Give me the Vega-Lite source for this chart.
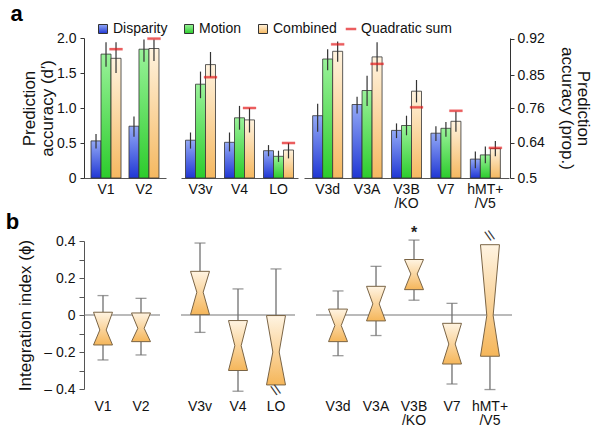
{
"$schema":"https://vega.github.io/schema/vega-lite/v6.json",
"padding":{"left":5,"top":3,"right":4,"bottom":4},
"spacing":0,
"config":{"font":"Liberation Sans","view":{"stroke":null},"axis":{"labelColor":"#111","titleColor":"#111","titleFontWeight":"normal","domainColor":"#333","tickColor":"#333","grid":false},"legend":{"labelFontSize":14,"labelColor":"#111","labelOffset":3,"columnPadding":14,"title":null}},
"datasets":{
"bars":[
{"area":"V1","series":"Disparity","v":0.53,"lo":0.42,"hi":0.63},
{"area":"V1","series":"Motion","v":1.77,"lo":1.59,"hi":1.94},
{"area":"V1","series":"Combined","v":1.71,"lo":1.50,"hi":1.94,"q":1.84},
{"area":"V2","series":"Disparity","v":0.74,"lo":0.59,"hi":0.88},
{"area":"V2","series":"Motion","v":1.84,"lo":1.66,"hi":1.98},
{"area":"V2","series":"Combined","v":1.85,"lo":1.67,"hi":1.98,"q":1.99},
{"area":"V3v","series":"Disparity","v":0.54,"lo":0.42,"hi":0.65},
{"area":"V3v","series":"Motion","v":1.34,"lo":1.14,"hi":1.52},
{"area":"V3v","series":"Combined","v":1.62,"lo":1.44,"hi":1.80,"q":1.44},
{"area":"V4","series":"Disparity","v":0.51,"lo":0.38,"hi":0.65},
{"area":"V4","series":"Motion","v":0.86,"lo":0.69,"hi":1.03},
{"area":"V4","series":"Combined","v":0.83,"lo":0.65,"hi":1.00,"q":1.00},
{"area":"LO","series":"Disparity","v":0.39,"lo":0.31,"hi":0.47},
{"area":"LO","series":"Motion","v":0.31,"lo":0.23,"hi":0.39},
{"area":"LO","series":"Combined","v":0.40,"lo":0.28,"hi":0.50,"q":0.50},
{"area":"V3d","series":"Disparity","v":0.89,"lo":0.66,"hi":1.06},
{"area":"V3d","series":"Motion","v":1.70,"lo":1.54,"hi":1.84},
{"area":"V3d","series":"Combined","v":1.81,"lo":1.66,"hi":1.95,"q":1.91},
{"area":"V3A","series":"Disparity","v":1.05,"lo":0.92,"hi":1.16},
{"area":"V3A","series":"Motion","v":1.25,"lo":1.03,"hi":1.46},
{"area":"V3A","series":"Combined","v":1.73,"lo":1.52,"hi":1.94,"q":1.63},
{"area":"V3B/KO","series":"Disparity","v":0.68,"lo":0.57,"hi":0.78},
{"area":"V3B/KO","series":"Motion","v":0.75,"lo":0.61,"hi":0.89},
{"area":"V3B/KO","series":"Combined","v":1.24,"lo":1.08,"hi":1.40,"q":1.01},
{"area":"V7","series":"Disparity","v":0.64,"lo":0.53,"hi":0.74},
{"area":"V7","series":"Motion","v":0.71,"lo":0.59,"hi":0.80},
{"area":"V7","series":"Combined","v":0.81,"lo":0.66,"hi":0.95,"q":0.96},
{"area":"hMT+/V5","series":"Disparity","v":0.27,"lo":0.14,"hi":0.38},
{"area":"hMT+/V5","series":"Motion","v":0.33,"lo":0.21,"hi":0.45},
{"area":"hMT+/V5","series":"Combined","v":0.42,"lo":0.31,"hi":0.53,"q":0.43}
],
"verts":[
{"area":"V1","k":1,"p":"L","v":0.015},{"area":"V1","k":2,"p":"R","v":0.015},{"area":"V1","k":3,"p":"r","v":-0.081},{"area":"V1","k":4,"p":"R","v":-0.162},{"area":"V1","k":5,"p":"L","v":-0.162},{"area":"V1","k":6,"p":"l","v":-0.081},
{"area":"V2","k":1,"p":"L","v":0.011},{"area":"V2","k":2,"p":"R","v":0.011},{"area":"V2","k":3,"p":"r","v":-0.072},{"area":"V2","k":4,"p":"R","v":-0.144},{"area":"V2","k":5,"p":"L","v":-0.144},{"area":"V2","k":6,"p":"l","v":-0.072},
{"area":"V3v","k":1,"p":"L","v":0.236},{"area":"V3v","k":2,"p":"R","v":0.236},{"area":"V3v","k":3,"p":"r","v":0.123},{"area":"V3v","k":4,"p":"R","v":0.002},{"area":"V3v","k":5,"p":"L","v":0.002},{"area":"V3v","k":6,"p":"l","v":0.123},
{"area":"V4","k":1,"p":"L","v":-0.03},{"area":"V4","k":2,"p":"R","v":-0.03},{"area":"V4","k":3,"p":"r","v":-0.166},{"area":"V4","k":4,"p":"R","v":-0.30},{"area":"V4","k":5,"p":"L","v":-0.30},{"area":"V4","k":6,"p":"l","v":-0.166},
{"area":"LO","k":1,"p":"L","v":-0.003},{"area":"LO","k":2,"p":"R","v":-0.003},{"area":"LO","k":3,"p":"r","v":-0.20},{"area":"LO","k":4,"p":"R","v":-0.378},{"area":"LO","k":5,"p":"L","v":-0.378},{"area":"LO","k":6,"p":"l","v":-0.20},
{"area":"V3d","k":1,"p":"L","v":0.032},{"area":"V3d","k":2,"p":"R","v":0.032},{"area":"V3d","k":3,"p":"r","v":-0.057},{"area":"V3d","k":4,"p":"R","v":-0.144},{"area":"V3d","k":5,"p":"L","v":-0.144},{"area":"V3d","k":6,"p":"l","v":-0.057},
{"area":"V3A","k":1,"p":"L","v":0.155},{"area":"V3A","k":2,"p":"R","v":0.155},{"area":"V3A","k":3,"p":"r","v":0.06},{"area":"V3A","k":4,"p":"R","v":-0.032},{"area":"V3A","k":5,"p":"L","v":-0.032},{"area":"V3A","k":6,"p":"l","v":0.06},
{"area":"V3B/KO","k":1,"p":"L","v":0.30},{"area":"V3B/KO","k":2,"p":"R","v":0.30},{"area":"V3B/KO","k":3,"p":"r","v":0.222},{"area":"V3B/KO","k":4,"p":"R","v":0.137},{"area":"V3B/KO","k":5,"p":"L","v":0.137},{"area":"V3B/KO","k":6,"p":"l","v":0.222},
{"area":"V7","k":1,"p":"L","v":-0.045},{"area":"V7","k":2,"p":"R","v":-0.045},{"area":"V7","k":3,"p":"r","v":-0.157},{"area":"V7","k":4,"p":"R","v":-0.265},{"area":"V7","k":5,"p":"L","v":-0.265},{"area":"V7","k":6,"p":"l","v":-0.157},
{"area":"hMT+/V5","k":1,"p":"L","v":0.38},{"area":"hMT+/V5","k":2,"p":"R","v":0.38},{"area":"hMT+/V5","k":3,"p":"r","v":-0.003},{"area":"hMT+/V5","k":4,"p":"R","v":-0.223},{"area":"hMT+/V5","k":5,"p":"L","v":-0.223},{"area":"hMT+/V5","k":6,"p":"l","v":-0.003}
],
"whisk":[
{"area":"V1","q3":0.015,"q1":-0.162,"lo":-0.243,"hi":0.105},
{"area":"V2","q3":0.011,"q1":-0.144,"lo":-0.216,"hi":0.09},
{"area":"V3v","q3":0.236,"q1":0.002,"lo":-0.094,"hi":0.389},
{"area":"V4","q3":-0.03,"q1":-0.30,"lo":-0.412,"hi":0.141},
{"area":"LO","q3":-0.003,"q1":-0.378,"lo":null,"hi":0.249},
{"area":"V3d","q3":0.032,"q1":-0.144,"lo":-0.22,"hi":0.13},
{"area":"V3A","q3":0.155,"q1":-0.032,"lo":-0.111,"hi":0.263},
{"area":"V3B/KO","q3":0.30,"q1":0.137,"lo":0.08,"hi":0.405},
{"area":"V7","q3":-0.045,"q1":-0.265,"lo":-0.373,"hi":0.063},
{"area":"hMT+/V5","q3":0.38,"q1":-0.223,"lo":-0.403,"hi":null}
],
"notes":[
{"area":"V3B/KO","v":0.445,"t":"*"},
{"area":"LO","v":-0.41,"t":"\\\\"},
{"area":"hMT+/V5","v":0.425,"t":"\\\\"}
]
},
"vconcat":[
{
"title":{"text":"a","anchor":"start","fontSize":22,"fontWeight":"bold","color":"#000","offset":5,"dx":-10,"frame":"bounds"},
"spacing":6,
"hconcat":[
{
"spacing":15,
"hconcat":[
{
"width":82,"height":140,
"data":{"name":"bars"},
"transform":[{"filter":{"field":"area","oneOf":["V1","V2"]}}],
"encoding":{
"x":{"field":"area","type":"nominal","scale":{"domain":["V1","V2"],"paddingInner":0.2,"paddingOuter":0.18},"axis":{"title":null,"ticks":false,"domain":true,"domainColor":"#555","labelAngle":0,"labelPadding":4,"labelFontSize":14,"labelLineHeight":14}},
"y":{"field":"v","type":"quantitative","scale":{"domain":[0,2],"nice":false},"axis":{"values":[0,0.5,1,1.5,2],"labelExpr":"datum.value == 0 ? '0' : format(datum.value,'.1f')","title":["Prediction","accuracy (d′)"],"tickSize":4,"labelPadding":4,"titlePadding":0,"labelFontSize":14,"titleFontSize":17,"titleLineHeight":18}}
},
"layer":[
{"transform":[{"filter":"datum.series == 'Disparity'"}],"mark":{"type":"bar","width":10,"xOffset":-10,"stroke":"#333","strokeWidth":0.8},
"encoding":{"fill":{"field":"series","type":"nominal","scale":{"domain":["Disparity","Motion","Combined"],"range":[
{"signal":"{gradient:'linear',x1:0,y1:0,x2:0,y2:1,stops:[{offset:0,color:'#93a9f6'},{offset:1,color:'#2037d4'}]}"},
{"signal":"{gradient:'linear',x1:0,y1:0,x2:0,y2:1,stops:[{offset:0,color:'#9af29a'},{offset:1,color:'#2ccc2c'}]}"},
{"signal":"{gradient:'linear',x1:0,y1:0,x2:0,y2:1,stops:[{offset:0,color:'#fff3df'},{offset:1,color:'#f5b860'}]}"}]},
"legend":{"orient":"none","legendX":12,"legendY":-16,"direction":"horizontal","symbolType":"square","symbolSize":81,"symbolStrokeWidth":1,"symbolStrokeColor":"#333"}}}},
{"transform":[{"filter":"datum.series == 'Motion'"}],"mark":{"type":"bar","width":10,"xOffset":0,"stroke":"#333","strokeWidth":0.8},
"encoding":{"fill":{"field":"series","type":"nominal","scale":{"domain":["Disparity","Motion","Combined"],"range":[
{"signal":"{gradient:'linear',x1:0,y1:0,x2:0,y2:1,stops:[{offset:0,color:'#93a9f6'},{offset:1,color:'#2037d4'}]}"},
{"signal":"{gradient:'linear',x1:0,y1:0,x2:0,y2:1,stops:[{offset:0,color:'#9af29a'},{offset:1,color:'#2ccc2c'}]}"},
{"signal":"{gradient:'linear',x1:0,y1:0,x2:0,y2:1,stops:[{offset:0,color:'#fff3df'},{offset:1,color:'#f5b860'}]}"}]},
"legend":{"orient":"none","legendX":12,"legendY":-16,"direction":"horizontal","symbolType":"square","symbolSize":81,"symbolStrokeWidth":1,"symbolStrokeColor":"#333"}}}},
{"transform":[{"filter":"datum.series == 'Combined'"}],"mark":{"type":"bar","width":10,"xOffset":10,"stroke":"#333","strokeWidth":0.8},
"encoding":{"fill":{"field":"series","type":"nominal","scale":{"domain":["Disparity","Motion","Combined"],"range":[
{"signal":"{gradient:'linear',x1:0,y1:0,x2:0,y2:1,stops:[{offset:0,color:'#93a9f6'},{offset:1,color:'#2037d4'}]}"},
{"signal":"{gradient:'linear',x1:0,y1:0,x2:0,y2:1,stops:[{offset:0,color:'#9af29a'},{offset:1,color:'#2ccc2c'}]}"},
{"signal":"{gradient:'linear',x1:0,y1:0,x2:0,y2:1,stops:[{offset:0,color:'#fff3df'},{offset:1,color:'#f5b860'}]}"}]},
"legend":{"orient":"none","legendX":12,"legendY":-16,"direction":"horizontal","symbolType":"square","symbolSize":81,"symbolStrokeWidth":1,"symbolStrokeColor":"#333"}}}},
{"transform":[{"filter":"datum.series == 'Disparity'"}],"mark":{"type":"rule","xOffset":-10,"color":"#333","strokeWidth":1.2},
"encoding":{"y":{"field":"lo","type":"quantitative","scale":{"domain":[0,2],"nice":false},"axis":{"values":[0,0.5,1,1.5,2],"labelExpr":"datum.value == 0 ? '0' : format(datum.value,'.1f')","title":["Prediction","accuracy (d′)"],"tickSize":4,"labelPadding":4,"titlePadding":0,"labelFontSize":14,"titleFontSize":17,"titleLineHeight":18}},"y2":{"field":"hi"}}},
{"transform":[{"filter":"datum.series == 'Motion'"}],"mark":{"type":"rule","xOffset":0,"color":"#333","strokeWidth":1.2},
"encoding":{"y":{"field":"lo","type":"quantitative","scale":{"domain":[0,2],"nice":false},"axis":{"values":[0,0.5,1,1.5,2],"labelExpr":"datum.value == 0 ? '0' : format(datum.value,'.1f')","title":["Prediction","accuracy (d′)"],"tickSize":4,"labelPadding":4,"titlePadding":0,"labelFontSize":14,"titleFontSize":17,"titleLineHeight":18}},"y2":{"field":"hi"}}},
{"transform":[{"filter":"datum.series == 'Combined'"}],"mark":{"type":"rule","xOffset":10,"color":"#333","strokeWidth":1.2},
"encoding":{"y":{"field":"lo","type":"quantitative","scale":{"domain":[0,2],"nice":false},"axis":{"values":[0,0.5,1,1.5,2],"labelExpr":"datum.value == 0 ? '0' : format(datum.value,'.1f')","title":["Prediction","accuracy (d′)"],"tickSize":4,"labelPadding":4,"titlePadding":0,"labelFontSize":14,"titleFontSize":17,"titleLineHeight":18}},"y2":{"field":"hi"}}},
{"transform":[{"filter":"isValid(datum.q)"}],"mark":{"type":"tick","xOffset":10,"color":"#e31a1c","thickness":2.2,"size":13,"strokeWidth":0.3},
"encoding":{"y":{"field":"q","type":"quantitative","scale":{"domain":[0,2],"nice":false},"axis":{"values":[0,0.5,1,1.5,2],"labelExpr":"datum.value == 0 ? '0' : format(datum.value,'.1f')","title":["Prediction","accuracy (d′)"],"tickSize":4,"labelPadding":4,"titlePadding":0,"labelFontSize":14,"titleFontSize":17,"titleLineHeight":18}},
"stroke":{"datum":"Quadratic sum","scale":{"domain":["Quadratic sum"],"range":["#e31a1c"]},"legend":{"orient":"none","legendX":260,"legendY":-16,"symbolType":"stroke","symbolSize":110,"symbolStrokeWidth":2.5}}}}
]
},
{
"width":117,"height":140,
"data":{"name":"bars"},
"transform":[{"filter":{"field":"area","oneOf":["V3v","V4","LO"]}}],
"encoding":{
"x":{"field":"area","type":"nominal","scale":{"domain":["V3v","V4","LO"],"paddingInner":0.2,"paddingOuter":0.1},"axis":{"title":null,"ticks":false,"domain":true,"domainColor":"#555","labelAngle":0,"labelPadding":4,"labelFontSize":14,"labelLineHeight":14}},
"y":{"field":"v","type":"quantitative","scale":{"domain":[0,2],"nice":false},"axis":null}
},
"layer":[
{"transform":[{"filter":"datum.series == 'Disparity'"}],"mark":{"type":"bar","width":10,"xOffset":-10,"stroke":"#333","strokeWidth":0.8},
"encoding":{"fill":{"field":"series","type":"nominal","scale":{"domain":["Disparity","Motion","Combined"],"range":[
{"signal":"{gradient:'linear',x1:0,y1:0,x2:0,y2:1,stops:[{offset:0,color:'#93a9f6'},{offset:1,color:'#2037d4'}]}"},
{"signal":"{gradient:'linear',x1:0,y1:0,x2:0,y2:1,stops:[{offset:0,color:'#9af29a'},{offset:1,color:'#2ccc2c'}]}"},
{"signal":"{gradient:'linear',x1:0,y1:0,x2:0,y2:1,stops:[{offset:0,color:'#fff3df'},{offset:1,color:'#f5b860'}]}"}]},
"legend":{"orient":"none","legendX":12,"legendY":-16,"direction":"horizontal","symbolType":"square","symbolSize":81,"symbolStrokeWidth":1,"symbolStrokeColor":"#333"}}}},
{"transform":[{"filter":"datum.series == 'Motion'"}],"mark":{"type":"bar","width":10,"xOffset":0,"stroke":"#333","strokeWidth":0.8},
"encoding":{"fill":{"field":"series","type":"nominal","scale":{"domain":["Disparity","Motion","Combined"],"range":[
{"signal":"{gradient:'linear',x1:0,y1:0,x2:0,y2:1,stops:[{offset:0,color:'#93a9f6'},{offset:1,color:'#2037d4'}]}"},
{"signal":"{gradient:'linear',x1:0,y1:0,x2:0,y2:1,stops:[{offset:0,color:'#9af29a'},{offset:1,color:'#2ccc2c'}]}"},
{"signal":"{gradient:'linear',x1:0,y1:0,x2:0,y2:1,stops:[{offset:0,color:'#fff3df'},{offset:1,color:'#f5b860'}]}"}]},
"legend":{"orient":"none","legendX":12,"legendY":-16,"direction":"horizontal","symbolType":"square","symbolSize":81,"symbolStrokeWidth":1,"symbolStrokeColor":"#333"}}}},
{"transform":[{"filter":"datum.series == 'Combined'"}],"mark":{"type":"bar","width":10,"xOffset":10,"stroke":"#333","strokeWidth":0.8},
"encoding":{"fill":{"field":"series","type":"nominal","scale":{"domain":["Disparity","Motion","Combined"],"range":[
{"signal":"{gradient:'linear',x1:0,y1:0,x2:0,y2:1,stops:[{offset:0,color:'#93a9f6'},{offset:1,color:'#2037d4'}]}"},
{"signal":"{gradient:'linear',x1:0,y1:0,x2:0,y2:1,stops:[{offset:0,color:'#9af29a'},{offset:1,color:'#2ccc2c'}]}"},
{"signal":"{gradient:'linear',x1:0,y1:0,x2:0,y2:1,stops:[{offset:0,color:'#fff3df'},{offset:1,color:'#f5b860'}]}"}]},
"legend":{"orient":"none","legendX":12,"legendY":-16,"direction":"horizontal","symbolType":"square","symbolSize":81,"symbolStrokeWidth":1,"symbolStrokeColor":"#333"}}}},
{"transform":[{"filter":"datum.series == 'Disparity'"}],"mark":{"type":"rule","xOffset":-10,"color":"#333","strokeWidth":1.2},
"encoding":{"y":{"field":"lo","type":"quantitative","scale":{"domain":[0,2],"nice":false},"axis":null},"y2":{"field":"hi"}}},
{"transform":[{"filter":"datum.series == 'Motion'"}],"mark":{"type":"rule","xOffset":0,"color":"#333","strokeWidth":1.2},
"encoding":{"y":{"field":"lo","type":"quantitative","scale":{"domain":[0,2],"nice":false},"axis":null},"y2":{"field":"hi"}}},
{"transform":[{"filter":"datum.series == 'Combined'"}],"mark":{"type":"rule","xOffset":10,"color":"#333","strokeWidth":1.2},
"encoding":{"y":{"field":"lo","type":"quantitative","scale":{"domain":[0,2],"nice":false},"axis":null},"y2":{"field":"hi"}}},
{"transform":[{"filter":"isValid(datum.q)"}],"mark":{"type":"tick","xOffset":10,"color":"#e31a1c","thickness":2.2,"size":13,"strokeWidth":0.3},
"encoding":{"y":{"field":"q","type":"quantitative","scale":{"domain":[0,2],"nice":false},"axis":null},
"stroke":{"datum":"Quadratic sum","scale":{"domain":["Quadratic sum"],"range":["#e31a1c"]},"legend":{"orient":"none","legendX":260,"legendY":-16,"symbolType":"stroke","symbolSize":110,"symbolStrokeWidth":2.5}}}}
]
}
]
},
{
"width":205,"height":140,
"data":{"name":"bars"},
"transform":[{"filter":{"field":"area","oneOf":["V3d","V3A","V3B/KO","V7","hMT+/V5"]}}],
"resolve":{"scale":{"y":"independent"}},
"encoding":{
"x":{"field":"area","type":"nominal","scale":{"domain":["V3d","V3A","V3B/KO","V7","hMT+/V5"],"paddingInner":0.2,"paddingOuter":0.2},"axis":{"title":null,"ticks":false,"domain":true,"domainColor":"#555","labelAngle":0,"labelPadding":4,"labelFontSize":14,"labelLineHeight":14,"labelExpr":"indexof(datum.label,'/') > 0 ? [slice(datum.label,0,indexof(datum.label,'/')), slice(datum.label,indexof(datum.label,'/'))] : datum.label"}},
"y":{"field":"v","type":"quantitative","scale":{"domain":[0,2],"nice":false},"axis":null}
},
"layer":[
{"transform":[{"filter":"datum.series == 'Disparity'"}],"mark":{"type":"bar","width":10,"xOffset":-10,"stroke":"#333","strokeWidth":0.8},
"encoding":{"fill":{"field":"series","type":"nominal","scale":{"domain":["Disparity","Motion","Combined"],"range":[
{"signal":"{gradient:'linear',x1:0,y1:0,x2:0,y2:1,stops:[{offset:0,color:'#93a9f6'},{offset:1,color:'#2037d4'}]}"},
{"signal":"{gradient:'linear',x1:0,y1:0,x2:0,y2:1,stops:[{offset:0,color:'#9af29a'},{offset:1,color:'#2ccc2c'}]}"},
{"signal":"{gradient:'linear',x1:0,y1:0,x2:0,y2:1,stops:[{offset:0,color:'#fff3df'},{offset:1,color:'#f5b860'}]}"}]},
"legend":{"orient":"none","legendX":12,"legendY":-16,"direction":"horizontal","symbolType":"square","symbolSize":81,"symbolStrokeWidth":1,"symbolStrokeColor":"#333"}}}},
{"transform":[{"filter":"datum.series == 'Motion'"}],"mark":{"type":"bar","width":10,"xOffset":0,"stroke":"#333","strokeWidth":0.8},
"encoding":{"fill":{"field":"series","type":"nominal","scale":{"domain":["Disparity","Motion","Combined"],"range":[
{"signal":"{gradient:'linear',x1:0,y1:0,x2:0,y2:1,stops:[{offset:0,color:'#93a9f6'},{offset:1,color:'#2037d4'}]}"},
{"signal":"{gradient:'linear',x1:0,y1:0,x2:0,y2:1,stops:[{offset:0,color:'#9af29a'},{offset:1,color:'#2ccc2c'}]}"},
{"signal":"{gradient:'linear',x1:0,y1:0,x2:0,y2:1,stops:[{offset:0,color:'#fff3df'},{offset:1,color:'#f5b860'}]}"}]},
"legend":{"orient":"none","legendX":12,"legendY":-16,"direction":"horizontal","symbolType":"square","symbolSize":81,"symbolStrokeWidth":1,"symbolStrokeColor":"#333"}}}},
{"transform":[{"filter":"datum.series == 'Combined'"}],"mark":{"type":"bar","width":10,"xOffset":10,"stroke":"#333","strokeWidth":0.8},
"encoding":{"fill":{"field":"series","type":"nominal","scale":{"domain":["Disparity","Motion","Combined"],"range":[
{"signal":"{gradient:'linear',x1:0,y1:0,x2:0,y2:1,stops:[{offset:0,color:'#93a9f6'},{offset:1,color:'#2037d4'}]}"},
{"signal":"{gradient:'linear',x1:0,y1:0,x2:0,y2:1,stops:[{offset:0,color:'#9af29a'},{offset:1,color:'#2ccc2c'}]}"},
{"signal":"{gradient:'linear',x1:0,y1:0,x2:0,y2:1,stops:[{offset:0,color:'#fff3df'},{offset:1,color:'#f5b860'}]}"}]},
"legend":{"orient":"none","legendX":12,"legendY":-16,"direction":"horizontal","symbolType":"square","symbolSize":81,"symbolStrokeWidth":1,"symbolStrokeColor":"#333"}}}},
{"transform":[{"filter":"datum.series == 'Disparity'"}],"mark":{"type":"rule","xOffset":-10,"color":"#333","strokeWidth":1.2},
"encoding":{"y":{"field":"lo","type":"quantitative","scale":{"domain":[0,2],"nice":false},"axis":null},"y2":{"field":"hi"}}},
{"transform":[{"filter":"datum.series == 'Motion'"}],"mark":{"type":"rule","xOffset":0,"color":"#333","strokeWidth":1.2},
"encoding":{"y":{"field":"lo","type":"quantitative","scale":{"domain":[0,2],"nice":false},"axis":null},"y2":{"field":"hi"}}},
{"transform":[{"filter":"datum.series == 'Combined'"}],"mark":{"type":"rule","xOffset":10,"color":"#333","strokeWidth":1.2},
"encoding":{"y":{"field":"lo","type":"quantitative","scale":{"domain":[0,2],"nice":false},"axis":null},"y2":{"field":"hi"}}},
{"transform":[{"filter":"isValid(datum.q)"}],"mark":{"type":"tick","xOffset":10,"color":"#e31a1c","thickness":2.2,"size":13,"strokeWidth":0.3},
"encoding":{"y":{"field":"q","type":"quantitative","scale":{"domain":[0,2],"nice":false},"axis":{"orient":"right","values":[0,0.507,0.999,1.466,1.987],"labelExpr":"datum.value < 0.1 ? '0.5' : datum.value < 0.7 ? '0.64' : datum.value < 1.2 ? '0.76' : datum.value < 1.7 ? '0.85' : '0.92'","title":["Prediction","accuracy (prop.)"],"offset":1,"tickSize":4,"labelPadding":3,"labelFontSize":14,"titleFontSize":17,"titlePadding":13,"titleLineHeight":16}},
"stroke":{"datum":"Quadratic sum","scale":{"domain":["Quadratic sum"],"range":["#e31a1c"]},"legend":{"orient":"none","legendX":260,"legendY":-16,"symbolType":"stroke","symbolSize":110,"symbolStrokeWidth":2.5}}}}
]
}
]
},
{
"title":{"text":"b","anchor":"start","fontSize":22,"fontWeight":"bold","color":"#000","offset":-9,"dx":-11,"frame":"bounds"},
"spacing":19,
"hconcat":[
{
"width":76,"height":148,
"layer":[
{"data":{"values":[{}]},"mark":{"type":"rule","color":"#777","strokeWidth":1.2},
"encoding":{"y":{"datum":0,"type":"quantitative","scale":{"domain":[-0.4,0.4],"nice":false},"axis":{"values":[-0.4,-0.3,-0.2,-0.1,0,0.1,0.2,0.3,0.4],"labelExpr":"abs(datum.value*10) % 2 > 0.5 ? '' : (datum.value < -0.001 ? '– ' + format(-datum.value,'.1f') : (abs(datum.value) < 0.001 ? '0' : format(datum.value,'.1f')))","title":"Integration index (ϕ)","domain":true,"domainColor":"#555","tickSize":5,"tickColor":"#555","labelPadding":4,"labelFontSize":14,"titleFontSize":17,"titlePadding":9}}}},
{"data":{"name":"whisk"},"transform":[{"filter":{"field":"area","oneOf":["V1","V2"]}},{"filter":"isValid(datum.hi)"}],
"mark":{"type":"rule","color":"#707070","strokeWidth":1.3},
"encoding":{"x":{"field":"area","type":"nominal","scale":{"domain":["V1","V2"],"paddingInner":0,"paddingOuter":0},"axis":{"title":null,"ticks":false,"domain":false,"labelAngle":0,"labelPadding":10,"labelFontSize":14,"labelLineHeight":14}},
"y":{"field":"q3","type":"quantitative","scale":{"domain":[-0.4,0.4],"nice":false},"axis":{"values":[-0.4,-0.3,-0.2,-0.1,0,0.1,0.2,0.3,0.4],"labelExpr":"abs(datum.value*10) % 2 > 0.5 ? '' : (datum.value < -0.001 ? '– ' + format(-datum.value,'.1f') : (abs(datum.value) < 0.001 ? '0' : format(datum.value,'.1f')))","title":"Integration index (ϕ)","domain":true,"domainColor":"#555","tickSize":5,"tickColor":"#555","labelPadding":4,"labelFontSize":14,"titleFontSize":17,"titlePadding":9}},"y2":{"field":"hi"}}},
{"data":{"name":"whisk"},"transform":[{"filter":{"field":"area","oneOf":["V1","V2"]}},{"filter":"isValid(datum.lo)"}],
"mark":{"type":"rule","color":"#707070","strokeWidth":1.3},
"encoding":{"x":{"field":"area","type":"nominal","scale":{"domain":["V1","V2"],"paddingInner":0,"paddingOuter":0},"axis":{"title":null,"ticks":false,"domain":false,"labelAngle":0,"labelPadding":10,"labelFontSize":14,"labelLineHeight":14}},
"y":{"field":"q1","type":"quantitative","scale":{"domain":[-0.4,0.4],"nice":false},"axis":{"values":[-0.4,-0.3,-0.2,-0.1,0,0.1,0.2,0.3,0.4],"labelExpr":"abs(datum.value*10) % 2 > 0.5 ? '' : (datum.value < -0.001 ? '– ' + format(-datum.value,'.1f') : (abs(datum.value) < 0.001 ? '0' : format(datum.value,'.1f')))","title":"Integration index (ϕ)","domain":true,"domainColor":"#555","tickSize":5,"tickColor":"#555","labelPadding":4,"labelFontSize":14,"titleFontSize":17,"titlePadding":9}},"y2":{"field":"lo"}}},
{"data":{"name":"whisk"},"transform":[{"filter":{"field":"area","oneOf":["V1","V2"]}},{"filter":"isValid(datum.hi)"}],
"mark":{"type":"tick","color":"#707070","thickness":1.3,"size":11},
"encoding":{"x":{"field":"area","type":"nominal","scale":{"domain":["V1","V2"],"paddingInner":0,"paddingOuter":0},"axis":{"title":null,"ticks":false,"domain":false,"labelAngle":0,"labelPadding":10,"labelFontSize":14,"labelLineHeight":14}},
"y":{"field":"hi","type":"quantitative","scale":{"domain":[-0.4,0.4],"nice":false},"axis":{"values":[-0.4,-0.3,-0.2,-0.1,0,0.1,0.2,0.3,0.4],"labelExpr":"abs(datum.value*10) % 2 > 0.5 ? '' : (datum.value < -0.001 ? '– ' + format(-datum.value,'.1f') : (abs(datum.value) < 0.001 ? '0' : format(datum.value,'.1f')))","title":"Integration index (ϕ)","domain":true,"domainColor":"#555","tickSize":5,"tickColor":"#555","labelPadding":4,"labelFontSize":14,"titleFontSize":17,"titlePadding":9}}}},
{"data":{"name":"whisk"},"transform":[{"filter":{"field":"area","oneOf":["V1","V2"]}},{"filter":"isValid(datum.lo)"}],
"mark":{"type":"tick","color":"#707070","thickness":1.3,"size":11},
"encoding":{"x":{"field":"area","type":"nominal","scale":{"domain":["V1","V2"],"paddingInner":0,"paddingOuter":0},"axis":{"title":null,"ticks":false,"domain":false,"labelAngle":0,"labelPadding":10,"labelFontSize":14,"labelLineHeight":14}},
"y":{"field":"lo","type":"quantitative","scale":{"domain":[-0.4,0.4],"nice":false},"axis":{"values":[-0.4,-0.3,-0.2,-0.1,0,0.1,0.2,0.3,0.4],"labelExpr":"abs(datum.value*10) % 2 > 0.5 ? '' : (datum.value < -0.001 ? '– ' + format(-datum.value,'.1f') : (abs(datum.value) < 0.001 ? '0' : format(datum.value,'.1f')))","title":"Integration index (ϕ)","domain":true,"domainColor":"#555","tickSize":5,"tickColor":"#555","labelPadding":4,"labelFontSize":14,"titleFontSize":17,"titlePadding":9}}}},
{"data":{"name":"verts"},"transform":[{"filter":{"field":"area","oneOf":["V1","V2"]}}],
"mark":{"type":"line","interpolate":"linear-closed","stroke":"#7a6445","strokeWidth":1,"fill":{"gradient":"linear","x1":0,"y1":0,"x2":0,"y2":1,"stops":[{"offset":0,"color":"#fff4e2"},{"offset":1,"color":"#f5b65a"}]}},
"encoding":{"x":{"field":"area","type":"nominal","scale":{"domain":["V1","V2"],"paddingInner":0,"paddingOuter":0},"axis":{"title":null,"ticks":false,"domain":false,"labelAngle":0,"labelPadding":10,"labelFontSize":14,"labelLineHeight":14}},
"xOffset":{"field":"p","type":"nominal","scale":{"type":"point","domain":["L","l","r","R"],"padding":0,"range":[9.5,28.5]}},
"y":{"field":"v","type":"quantitative","scale":{"domain":[-0.4,0.4],"nice":false},"axis":{"values":[-0.4,-0.3,-0.2,-0.1,0,0.1,0.2,0.3,0.4],"labelExpr":"abs(datum.value*10) % 2 > 0.5 ? '' : (datum.value < -0.001 ? '– ' + format(-datum.value,'.1f') : (abs(datum.value) < 0.001 ? '0' : format(datum.value,'.1f')))","title":"Integration index (ϕ)","domain":true,"domainColor":"#555","tickSize":5,"tickColor":"#555","labelPadding":4,"labelFontSize":14,"titleFontSize":17,"titlePadding":9}},
"detail":{"field":"area"},"order":{"field":"k","type":"quantitative"}}}
]
},
{
"width":114,"height":148,
"layer":[
{"data":{"values":[{}]},"mark":{"type":"rule","color":"#777","strokeWidth":1.2},
"encoding":{"y":{"datum":0,"type":"quantitative","scale":{"domain":[-0.4,0.4],"nice":false},"axis":null}}},
{"data":{"name":"whisk"},"transform":[{"filter":{"field":"area","oneOf":["V3v","V4","LO"]}},{"filter":"isValid(datum.hi)"}],
"mark":{"type":"rule","color":"#707070","strokeWidth":1.3},
"encoding":{"x":{"field":"area","type":"nominal","scale":{"domain":["V3v","V4","LO"],"paddingInner":0,"paddingOuter":0},"axis":{"title":null,"ticks":false,"domain":false,"labelAngle":0,"labelPadding":10,"labelFontSize":14,"labelLineHeight":14}},
"y":{"field":"q3","type":"quantitative","scale":{"domain":[-0.4,0.4],"nice":false},"axis":null},"y2":{"field":"hi"}}},
{"data":{"name":"whisk"},"transform":[{"filter":{"field":"area","oneOf":["V3v","V4","LO"]}},{"filter":"isValid(datum.lo)"}],
"mark":{"type":"rule","color":"#707070","strokeWidth":1.3},
"encoding":{"x":{"field":"area","type":"nominal","scale":{"domain":["V3v","V4","LO"],"paddingInner":0,"paddingOuter":0}},
"y":{"field":"q1","type":"quantitative","scale":{"domain":[-0.4,0.4],"nice":false},"axis":null},"y2":{"field":"lo"}}},
{"data":{"name":"whisk"},"transform":[{"filter":{"field":"area","oneOf":["V3v","V4","LO"]}},{"filter":"isValid(datum.hi)"}],
"mark":{"type":"tick","color":"#707070","thickness":1.3,"size":11},
"encoding":{"x":{"field":"area","type":"nominal","scale":{"domain":["V3v","V4","LO"],"paddingInner":0,"paddingOuter":0}},
"y":{"field":"hi","type":"quantitative","scale":{"domain":[-0.4,0.4],"nice":false},"axis":null}}},
{"data":{"name":"whisk"},"transform":[{"filter":{"field":"area","oneOf":["V3v","V4","LO"]}},{"filter":"isValid(datum.lo)"}],
"mark":{"type":"tick","color":"#707070","thickness":1.3,"size":11},
"encoding":{"x":{"field":"area","type":"nominal","scale":{"domain":["V3v","V4","LO"],"paddingInner":0,"paddingOuter":0}},
"y":{"field":"lo","type":"quantitative","scale":{"domain":[-0.4,0.4],"nice":false},"axis":null}}},
{"data":{"name":"verts"},"transform":[{"filter":{"field":"area","oneOf":["V3v","V4","LO"]}}],
"mark":{"type":"line","interpolate":"linear-closed","stroke":"#7a6445","strokeWidth":1,"fill":{"gradient":"linear","x1":0,"y1":0,"x2":0,"y2":1,"stops":[{"offset":0,"color":"#fff4e2"},{"offset":1,"color":"#f5b65a"}]}},
"encoding":{"x":{"field":"area","type":"nominal","scale":{"domain":["V3v","V4","LO"],"paddingInner":0,"paddingOuter":0}},
"xOffset":{"field":"p","type":"nominal","scale":{"type":"point","domain":["L","l","r","R"],"padding":0,"range":[9.5,28.5]}},
"y":{"field":"v","type":"quantitative","scale":{"domain":[-0.4,0.4],"nice":false},"axis":null},
"detail":{"field":"area"},"order":{"field":"k","type":"quantitative"}}},
{"data":{"name":"notes"},"transform":[{"filter":{"field":"area","oneOf":["V3v","V4","LO"]}}],
"mark":{"type":"text","fontSize":14,"color":"#333","angle":-20,"baseline":"middle"},
"encoding":{"x":{"field":"area","type":"nominal","scale":{"domain":["V3v","V4","LO"],"paddingInner":0,"paddingOuter":0}},
"y":{"field":"v","type":"quantitative","scale":{"domain":[-0.4,0.4],"nice":false},"axis":null},"text":{"field":"t"}}}
]
},
{
"width":196,"height":148,
"layer":[
{"data":{"values":[{}]},"mark":{"type":"rule","color":"#777","strokeWidth":1.2},
"encoding":{"y":{"datum":0,"type":"quantitative","scale":{"domain":[-0.4,0.4],"nice":false},"axis":null}}},
{"data":{"name":"whisk"},"transform":[{"filter":{"field":"area","oneOf":["V3d","V3A","V3B/KO","V7","hMT+/V5"]}},{"filter":"isValid(datum.hi)"}],
"mark":{"type":"rule","color":"#707070","strokeWidth":1.3},
"encoding":{"x":{"field":"area","type":"nominal","scale":{"domain":["V3d","V3A","V3B/KO","V7","hMT+/V5"],"paddingInner":0,"paddingOuter":0.08},"axis":{"title":null,"ticks":false,"domain":false,"labelAngle":0,"labelPadding":10,"labelFontSize":14,"labelLineHeight":14,"labelExpr":"indexof(datum.label,'/') > 0 ? [slice(datum.label,0,indexof(datum.label,'/')), slice(datum.label,indexof(datum.label,'/'))] : datum.label"}},
"y":{"field":"q3","type":"quantitative","scale":{"domain":[-0.4,0.4],"nice":false},"axis":null},"y2":{"field":"hi"}}},
{"data":{"name":"whisk"},"transform":[{"filter":{"field":"area","oneOf":["V3d","V3A","V3B/KO","V7","hMT+/V5"]}},{"filter":"isValid(datum.lo)"}],
"mark":{"type":"rule","color":"#707070","strokeWidth":1.3},
"encoding":{"x":{"field":"area","type":"nominal","scale":{"domain":["V3d","V3A","V3B/KO","V7","hMT+/V5"],"paddingInner":0,"paddingOuter":0.08}},
"y":{"field":"q1","type":"quantitative","scale":{"domain":[-0.4,0.4],"nice":false},"axis":null},"y2":{"field":"lo"}}},
{"data":{"name":"whisk"},"transform":[{"filter":{"field":"area","oneOf":["V3d","V3A","V3B/KO","V7","hMT+/V5"]}},{"filter":"isValid(datum.hi)"}],
"mark":{"type":"tick","color":"#707070","thickness":1.3,"size":11},
"encoding":{"x":{"field":"area","type":"nominal","scale":{"domain":["V3d","V3A","V3B/KO","V7","hMT+/V5"],"paddingInner":0,"paddingOuter":0.08}},
"y":{"field":"hi","type":"quantitative","scale":{"domain":[-0.4,0.4],"nice":false},"axis":null}}},
{"data":{"name":"whisk"},"transform":[{"filter":{"field":"area","oneOf":["V3d","V3A","V3B/KO","V7","hMT+/V5"]}},{"filter":"isValid(datum.lo)"}],
"mark":{"type":"tick","color":"#707070","thickness":1.3,"size":11},
"encoding":{"x":{"field":"area","type":"nominal","scale":{"domain":["V3d","V3A","V3B/KO","V7","hMT+/V5"],"paddingInner":0,"paddingOuter":0.08}},
"y":{"field":"lo","type":"quantitative","scale":{"domain":[-0.4,0.4],"nice":false},"axis":null}}},
{"data":{"name":"verts"},"transform":[{"filter":{"field":"area","oneOf":["V3d","V3A","V3B/KO","V7","hMT+/V5"]}}],
"mark":{"type":"line","interpolate":"linear-closed","stroke":"#7a6445","strokeWidth":1,"fill":{"gradient":"linear","x1":0,"y1":0,"x2":0,"y2":1,"stops":[{"offset":0,"color":"#fff4e2"},{"offset":1,"color":"#f5b65a"}]}},
"encoding":{"x":{"field":"area","type":"nominal","scale":{"domain":["V3d","V3A","V3B/KO","V7","hMT+/V5"],"paddingInner":0,"paddingOuter":0.08}},
"xOffset":{"field":"p","type":"nominal","scale":{"type":"point","domain":["L","l","r","R"],"padding":0,"range":[9.5,28.5]}},
"y":{"field":"v","type":"quantitative","scale":{"domain":[-0.4,0.4],"nice":false},"axis":null},
"detail":{"field":"area"},"order":{"field":"k","type":"quantitative"}}},
{"data":{"name":"notes"},"transform":[{"filter":{"field":"area","oneOf":["V3d","V3A","V3B/KO","V7","hMT+/V5"]}},{"filter":"datum.t == '*'"}],
"mark":{"type":"text","fontSize":16,"fontWeight":"bold","color":"#222","baseline":"middle"},
"encoding":{"x":{"field":"area","type":"nominal","scale":{"domain":["V3d","V3A","V3B/KO","V7","hMT+/V5"],"paddingInner":0,"paddingOuter":0.08}},
"y":{"field":"v","type":"quantitative","scale":{"domain":[-0.4,0.4],"nice":false},"axis":null},"text":{"field":"t"}}},
{"data":{"name":"notes"},"transform":[{"filter":{"field":"area","oneOf":["V3d","V3A","V3B/KO","V7","hMT+/V5"]}},{"filter":"datum.t != '*'"}],
"mark":{"type":"text","fontSize":14,"color":"#333","angle":-20,"baseline":"middle"},
"encoding":{"x":{"field":"area","type":"nominal","scale":{"domain":["V3d","V3A","V3B/KO","V7","hMT+/V5"],"paddingInner":0,"paddingOuter":0.08}},
"y":{"field":"v","type":"quantitative","scale":{"domain":[-0.4,0.4],"nice":false},"axis":null},"text":{"field":"t"}}}
]
}
]
}
]
}
